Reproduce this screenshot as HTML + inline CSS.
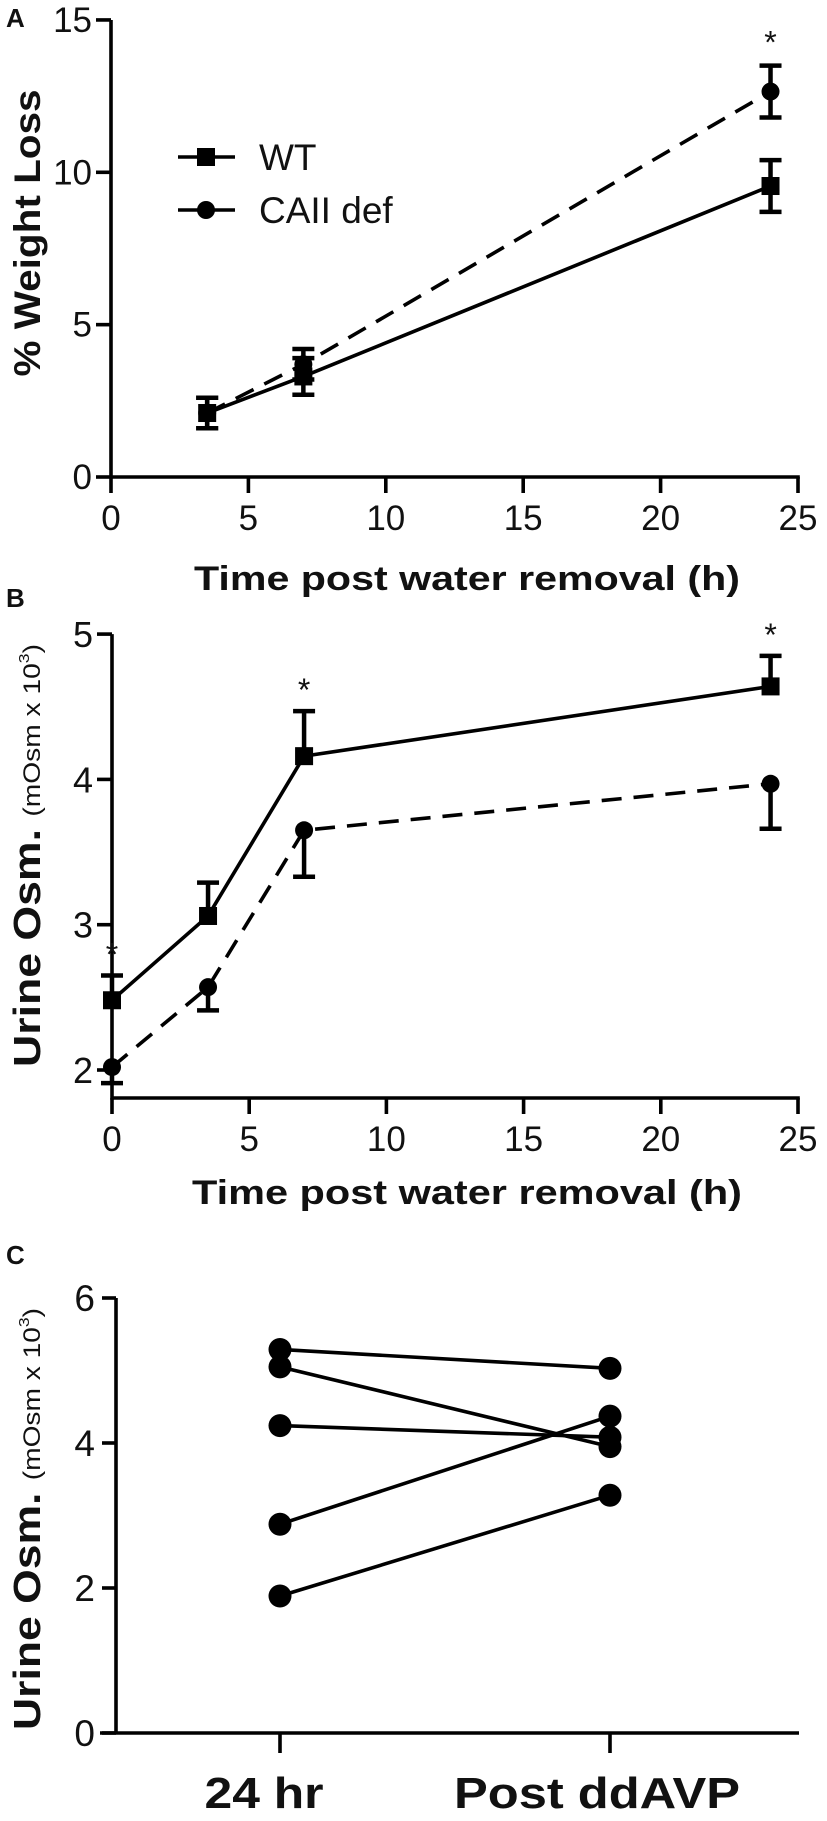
<!DOCTYPE html>
<html><head><meta charset="utf-8"><style>
html,body{margin:0;padding:0;background:#fff}
svg{display:block}
text{font-family:"Liberation Sans",Arial,sans-serif;fill:#111}
.b{font-weight:bold}
</style></head><body>
<svg id="fig" width="827" height="1821" viewBox="0 0 827 1821" xmlns="http://www.w3.org/2000/svg">
<g id="pA"></g>
<g id="pB"></g>
<g id="pC"></g>
</svg>
<script>
// Panel A data
const aTimes = [3.5, 7, 24];
const aWT = [2.1, 3.3, 9.55];
const aWTerr = [0.5, 0.6, 0.85];
const aCA = [2.1, 3.7, 12.65];
const aCAerr = [0.5, 0.5, 0.85];
const aXTicks = [0, 5, 10, 15, 20, 25];
const aYTicks = [0, 5, 10, 15];
const aStars = [24];
// Panel B data
const bTimes = [0, 3.5, 7, 24];
const bWT = [2.48, 3.06, 4.16, 4.64];
const bWTerr = [0.17, 0.23, 0.31, 0.21];
const bCA = [2.02, 2.57, 3.65, 3.97];
const bCAerr = [0.11, 0.16, 0.32, 0.31];
const bXTicks = [0, 5, 10, 15, 20, 25];
const bYTicks = [2, 3, 4, 5];
const bStars = [0, 7, 24];
// Panel C data
const cCats = ["24 hr", "Post ddAVP"];
const cBefore = [5.29, 5.05, 4.24, 2.88, 1.89];
const cAfter = [5.03, 3.95, 4.08, 4.37, 3.28];
const cYTicks = [0, 2, 4, 6];

const NS = "http://www.w3.org/2000/svg";
function mk(parent, tag, attrs, txt) {
  const e = document.createElementNS(NS, tag);
  for (const k in attrs) e.setAttribute(k, attrs[k]);
  if (txt !== undefined) e.textContent = txt;
  parent.appendChild(e);
  return e;
}
const SW = 3.6;

// ---------- Panel A ----------
(function () {
  const g = document.getElementById('pA');
  const x = t => 111 + t * 27.48;
  const y = v => 477 - v * 30.47;
  let e;
  e = mk(g, 'text', {x: 6, y: 27, 'font-size': 26, class: 'b'}, 'A');
   
  e = mk(g, 'line', {x1: 111, y1: y(15), x2: 111, y2: 477 + 1.8, stroke: '#000', 'stroke-width': SW});
   
  e = mk(g, 'line', {x1: 111, y1: 477, x2: x(25) + 1.8, y2: 477, stroke: '#000', 'stroke-width': SW});
   
  aYTicks.forEach(v => {
    mk(g, 'line', {x1: 96, y1: y(v), x2: 111, y2: y(v), stroke: '#000', 'stroke-width': SW});
    e = mk(g, 'text', {x: 92, y: y(v) + 12, 'font-size': 35, 'text-anchor': 'end'}, String(v));
     
  });
  aXTicks.forEach(t => {
    mk(g, 'line', {x1: x(t), y1: 477, x2: x(t), y2: 493, stroke: '#000', 'stroke-width': SW});
    e = mk(g, 'text', {x: x(t), y: 530, 'font-size': 35, 'text-anchor': 'middle'}, String(t));
     
  });
  e = mk(g, 'text', {x: 467, y: 590, 'font-size': 34, class: 'b', 'text-anchor': 'middle', textLength: 546, lengthAdjust: 'spacingAndGlyphs'}, 'Time post water removal (h)');
   
  e = mk(g, 'text', {x: 0, y: 0, 'font-size': 37, class: 'b', 'text-anchor': 'middle', transform: 'translate(40,233) rotate(-90)', textLength: 287, lengthAdjust: 'spacingAndGlyphs'}, '% Weight Loss');
   
  const ptsW = aTimes.map((t, i) => x(t) + ',' + y(aWT[i])).join(' ');
  const ptsC = aTimes.map((t, i) => x(t) + ',' + y(aCA[i])).join(' ');
  e = mk(g, 'polyline', {points: ptsC, fill: 'none', stroke: '#000', 'stroke-width': SW, 'stroke-dasharray': '20 12'});
   
  e = mk(g, 'polyline', {points: ptsW, fill: 'none', stroke: '#000', 'stroke-width': SW});
   
  aTimes.forEach((t, i) => {
    [[aWT[i], aWTerr[i]], [aCA[i], aCAerr[i]]].forEach(([v, er]) => {
      e = mk(g, 'path', {d: `M${x(t)},${y(v + er)}V${y(v - er)}M${x(t) - 11},${y(v + er)}h22M${x(t) - 11},${y(v - er)}h22`, stroke: '#000', 'stroke-width': 4.5, fill: 'none'});
       
    });
    e = mk(g, 'rect', {x: x(t) - 9, y: y(aWT[i]) - 9, width: 18, height: 18, fill: '#000'});
     
    e = mk(g, 'circle', {cx: x(t), cy: y(aCA[i]), r: 9, fill: '#000'});
     
  });
  aStars.forEach(t => {
    const idx = aTimes.indexOf(t);
    e = mk(g, 'text', {x: x(t), y: y(aCA[idx] + aCAerr[idx]) - 12, 'font-size': 32, 'text-anchor': 'middle'}, '*');
     
  });
  const lg = mk(g, 'g', {});
   
  mk(lg, 'line', {x1: 178, y1: 157, x2: 235, y2: 157, stroke: '#000', 'stroke-width': SW});
  mk(lg, 'rect', {x: 197, y: 148, width: 18, height: 18, fill: '#000'});
  e = mk(lg, 'text', {x: 259, y: 170, 'font-size': 37}, 'WT');
   
  mk(lg, 'line', {x1: 178, y1: 210, x2: 235, y2: 210, stroke: '#000', 'stroke-width': SW});
  mk(lg, 'circle', {cx: 206, cy: 210, r: 9, fill: '#000'});
  e = mk(lg, 'text', {x: 259, y: 223, 'font-size': 37}, 'CAII def');
   
})();

// ---------- Panel B ----------
(function () {
  const g = document.getElementById('pB');
  const x = t => 112 + t * 27.44;
  const y = v => 1070 - (v - 2) * 145.3;
  const axY = 1098;
  let e;
  e = mk(g, 'text', {x: 6, y: 607, 'font-size': 26, class: 'b'}, 'B');
   
  e = mk(g, 'line', {x1: 112, y1: y(5), x2: 112, y2: axY + 1.8, stroke: '#000', 'stroke-width': SW});
   
  e = mk(g, 'line', {x1: 112, y1: axY, x2: x(25) + 1.8, y2: axY, stroke: '#000', 'stroke-width': SW});
   
  bYTicks.forEach(v => {
    mk(g, 'line', {x1: 97, y1: y(v), x2: 112, y2: y(v), stroke: '#000', 'stroke-width': SW});
    e = mk(g, 'text', {x: 93, y: y(v) + 13, 'font-size': 36, 'text-anchor': 'end'}, String(v));
     
  });
  bXTicks.forEach(t => {
    mk(g, 'line', {x1: x(t), y1: axY, x2: x(t), y2: axY + 16, stroke: '#000', 'stroke-width': SW});
    e = mk(g, 'text', {x: x(t), y: 1151, 'font-size': 35, 'text-anchor': 'middle'}, String(t));
     
  });
  e = mk(g, 'text', {x: 467, y: 1204, 'font-size': 34, class: 'b', 'text-anchor': 'middle', textLength: 550, lengthAdjust: 'spacingAndGlyphs'}, 'Time post  water removal (h)');
   
  const yt = mk(g, 'text', {x: 0, y: 0, transform: 'translate(40,1067) rotate(-90)', textLength: 423, lengthAdjust: 'spacingAndGlyphs'});
   
  mk(yt, 'tspan', {class: 'b', 'font-size': 38}, 'Urine Osm. ');
  mk(yt, 'tspan', {'font-size': 24}, '(mOsm x 10');
  mk(yt, 'tspan', {'font-size': 15, dy: -11}, '3');
  mk(yt, 'tspan', {'font-size': 24, dy: 11}, ')');
  const ptsW = bTimes.map((t, i) => x(t) + ',' + y(bWT[i])).join(' ');
  const ptsC = bTimes.map((t, i) => x(t) + ',' + y(bCA[i])).join(' ');
  e = mk(g, 'polyline', {points: ptsC, fill: 'none', stroke: '#000', 'stroke-width': SW, 'stroke-dasharray': '20 12'});
   
  e = mk(g, 'polyline', {points: ptsW, fill: 'none', stroke: '#000', 'stroke-width': SW});
   
  bTimes.forEach((t, i) => {
    e = mk(g, 'path', {d: `M${x(t)},${y(bWT[i])}V${y(bWT[i] + bWTerr[i])}M${x(t) - 11},${y(bWT[i] + bWTerr[i])}h22`, stroke: '#000', 'stroke-width': 4.5, fill: 'none'});
     
    e = mk(g, 'path', {d: `M${x(t)},${y(bCA[i])}V${y(bCA[i] - bCAerr[i])}M${x(t) - 11},${y(bCA[i] - bCAerr[i])}h22`, stroke: '#000', 'stroke-width': 4.5, fill: 'none'});
     
    e = mk(g, 'rect', {x: x(t) - 9, y: y(bWT[i]) - 9, width: 18, height: 18, fill: '#000'});
     
    e = mk(g, 'circle', {cx: x(t), cy: y(bCA[i]), r: 9, fill: '#000'});
     
  });
  bStars.forEach(t => {
    const idx = bTimes.indexOf(t);
    e = mk(g, 'text', {x: x(t), y: y(bWT[idx] + bWTerr[idx]) - 10, 'font-size': 32, 'text-anchor': 'middle'}, '*');
     
  });
})();

// ---------- Panel C ----------
(function () {
  const g = document.getElementById('pC');
  const catX = [280, 610];
  const y = v => 1733 - v * 72.5;
  let e;
  e = mk(g, 'text', {x: 6, y: 1264, 'font-size': 26, class: 'b'}, 'C');
   
  e = mk(g, 'line', {x1: 116, y1: y(6), x2: 116, y2: 1733, stroke: '#000', 'stroke-width': SW});
   
  e = mk(g, 'line', {x1: 100, y1: 1733, x2: 799, y2: 1733, stroke: '#000', 'stroke-width': SW});
   
  cYTicks.forEach(v => {
    mk(g, 'line', {x1: 102, y1: y(v), x2: 116, y2: y(v), stroke: '#000', 'stroke-width': SW});
    e = mk(g, 'text', {x: 95, y: y(v) + 13, 'font-size': 37, 'text-anchor': 'end'}, String(v));
     
  });
  cCats.forEach((c, i) => {
    mk(g, 'line', {x1: catX[i], y1: 1733, x2: catX[i], y2: 1753, stroke: '#000', 'stroke-width': SW});
  });
  e = mk(g, 'text', {x: 264, y: 1808, 'font-size': 44, class: 'b', 'text-anchor': 'middle', textLength: 119, lengthAdjust: 'spacingAndGlyphs'}, cCats[0]);
   
  e = mk(g, 'text', {x: 597, y: 1808, 'font-size': 44, class: 'b', 'text-anchor': 'middle', textLength: 286, lengthAdjust: 'spacingAndGlyphs'}, cCats[1]);
   
  const yt = mk(g, 'text', {x: 0, y: 0, transform: 'translate(40,1730) rotate(-90)', textLength: 422, lengthAdjust: 'spacingAndGlyphs'});
   
  mk(yt, 'tspan', {class: 'b', 'font-size': 38}, 'Urine Osm. ');
  mk(yt, 'tspan', {'font-size': 24}, '(mOsm x 10');
  mk(yt, 'tspan', {'font-size': 15, dy: -11}, '3');
  mk(yt, 'tspan', {'font-size': 24, dy: 11}, ')');
  cBefore.forEach((v, i) => {
    e = mk(g, 'line', {x1: catX[0], y1: y(v), x2: catX[1], y2: y(cAfter[i]), stroke: '#000', 'stroke-width': SW});
     
  });
  cBefore.forEach((v, i) => {
    e = mk(g, 'circle', {cx: catX[0], cy: y(v), r: 11.5, fill: '#000'});
     
    e = mk(g, 'circle', {cx: catX[1], cy: y(cAfter[i]), r: 11.5, fill: '#000'});
     
  });
})();
</script>
</body></html>
